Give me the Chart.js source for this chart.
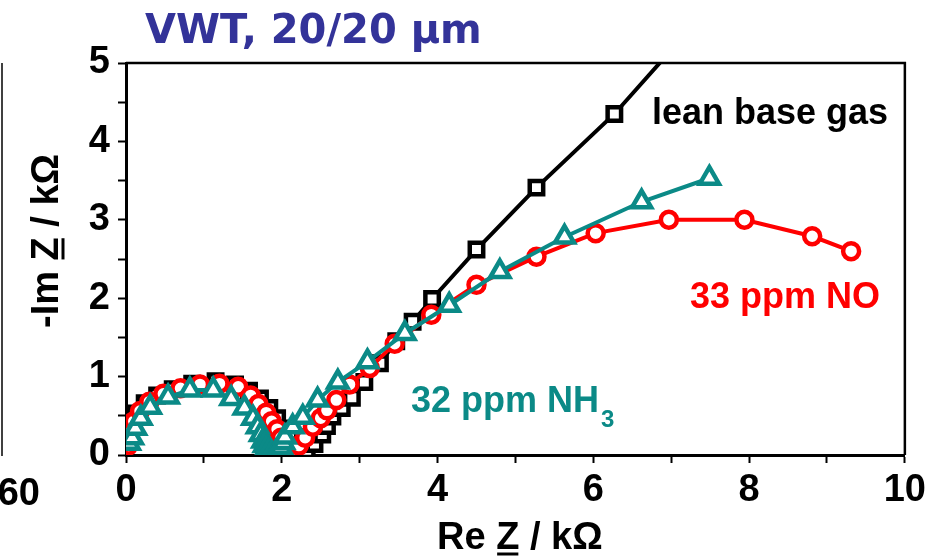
<!DOCTYPE html>
<html>
<head>
<meta charset="utf-8">
<script src="https://cdn.jsdelivr.net/npm/chart.js@4.4.0/dist/chart.umd.min.js"></script>
<style>
  html, body { margin: 0; padding: 0; background: #fff; }
  #wrap { width: 931px; height: 559px; }
</style>
</head>
<body>
<div id="wrap"><canvas id="nyquist" width="931" height="559"></canvas></div>
<script>
// lean base gas (black squares)
var leanX = [0.04, 0.08, 0.14, 0.24, 0.40, 0.60, 0.85, 1.15, 1.40, 1.58, 1.72, 1.84, 1.94, 2.03, 2.10, 2.17,
             2.22, 2.32, 2.42, 2.52, 2.58, 2.65, 2.77, 2.90, 3.06, 3.26, 3.47, 3.68, 3.93, 4.50, 5.27, 6.27, 7.30];
var leanY = [0.20, 0.38, 0.53, 0.66, 0.76, 0.84, 0.91, 0.94, 0.90, 0.82, 0.72, 0.60, 0.47, 0.34, 0.22, 0.12,
             0.04, 0.06, 0.14, 0.26, 0.37, 0.49, 0.60, 0.73, 0.93, 1.17, 1.45, 1.70, 1.99, 2.62, 3.41, 4.35, 5.50];

// 33 ppm NO (red circles)
var noX = [0.03, 0.05, 0.10, 0.18, 0.30, 0.48, 0.70, 0.95, 1.20, 1.44, 1.60, 1.70, 1.80, 1.87, 1.94, 1.99,
           2.03, 2.06, 2.10, 2.15, 2.22, 2.30, 2.40, 2.50, 2.58, 2.70, 2.87, 3.13, 3.45, 3.92, 4.50, 5.27,
           6.03, 6.97, 7.94, 8.81, 9.31];
var noY = [0.12, 0.28, 0.43, 0.56, 0.68, 0.78, 0.85, 0.90, 0.91, 0.87, 0.76, 0.65, 0.54, 0.43, 0.33, 0.22,
           0.13, 0.06, 0.03, 0.06, 0.12, 0.22, 0.36, 0.47, 0.57, 0.70, 0.90, 1.11, 1.42, 1.79, 2.17, 2.53,
           2.83, 3.00, 3.00, 2.79, 2.60];

// 32 ppm NH3 (teal triangles)
var nh3X = [0.04, 0.08, 0.12, 0.19, 0.31, 0.54, 0.82, 1.12, 1.35, 1.52, 1.63, 1.69, 1.73, 1.76, 1.78, 1.80,
            1.83, 1.87, 1.92, 1.96, 1.99, 2.02, 2.04, 2.14, 2.27, 2.46, 2.72, 3.10, 3.58, 4.15, 4.80, 5.63,
            6.62, 7.49];
var nh3Y = [0.15, 0.22, 0.34, 0.47, 0.61, 0.74, 0.83, 0.83, 0.72, 0.60, 0.47, 0.36, 0.26, 0.18, 0.12, 0.07,
            0.04, 0.02, 0.03, 0.06, 0.10, 0.16, 0.23, 0.36, 0.48, 0.70, 0.93, 1.19, 1.55, 1.91, 2.34, 2.78,
            3.23, 3.53];

var xMin = 0, xMax = 10, xStep = 1;
var yMin = 0, yMax = 5, yStep = 0.5;

function pts(xs, ys) {
    return xs.map(function(x, i) { return { x: x, y: ys[i] }; });
}

var FONT = "'Liberation Sans', Arial, sans-serif";

// frame, title, annotations and axis titles with underlined Z
var decor = {
    id: 'decor',
    afterDraw: function(chart) {
        var ctx = chart.ctx;
        var a = chart.chartArea;
        ctx.save();
        ctx.strokeStyle = '#000';
        ctx.lineWidth = 2.5;
        ctx.beginPath();
        ctx.moveTo(a.left, a.top);
        ctx.lineTo(a.right, a.top);
        ctx.lineTo(a.right, a.bottom);
        ctx.stroke();

        // piece of neighbouring panel at left edge
        ctx.lineWidth = 1.5;
        ctx.beginPath();
        ctx.moveTo(2, 63);
        ctx.lineTo(2, 456);
        ctx.stroke();
        ctx.fillStyle = '#000';
        ctx.font = 'bold 38px ' + FONT;
        ctx.textAlign = 'right';
        ctx.textBaseline = 'alphabetic';
        ctx.fillText('60', 40, 505);

        ctx.textAlign = 'left';
        ctx.fillStyle = '#333399';
        ctx.font = "bold 40px 'DejaVu Sans', Verdana, sans-serif";
        ctx.fillText('VWT, 20/20 µm', 145, 43);

        ctx.fillStyle = '#000';
        ctx.font = 'bold 36px ' + FONT;
        ctx.fillText('lean base gas', 652, 124);

        ctx.fillStyle = '#ff0000';
        ctx.fillText('33 ppm NO', 690, 308);

        ctx.fillStyle = '#0b8a87';
        ctx.fillText('32 ppm NH', 411, 412);
        var w = ctx.measureText('32 ppm NH').width;
        ctx.font = 'bold 24px ' + FONT;
        ctx.fillText('3', 411 + w + 2, 427);

        // axis titles
        ctx.fillStyle = '#000';
        ctx.strokeStyle = '#000';
        ctx.font = 'bold 38px ' + FONT;
        drawTitle(ctx, 'Re ', 437, 549);
        ctx.translate(58, 328);
        ctx.rotate(-Math.PI / 2);
        drawTitle(ctx, '-Im ', 0, 0);
        ctx.restore();
    }
};

function drawTitle(ctx, pre, x, y) {
    ctx.textAlign = 'left';
    ctx.fillText(pre, x, y);
    var x1 = x + ctx.measureText(pre).width;
    ctx.fillText('Z', x1, y);
    var zw = ctx.measureText('Z').width;
    ctx.lineWidth = 3;
    ctx.beginPath();
    ctx.moveTo(x1 + 1, y + 5);
    ctx.lineTo(x1 + zw - 1, y + 5);
    ctx.stroke();
    ctx.fillText(' / kΩ', x1 + zw, y);
}

var ctx = document.getElementById('nyquist').getContext('2d');
new Chart(ctx, {
    type: 'scatter',
    data: {
        datasets: [{
            label: '32 ppm NH3',
            data: pts(nh3X, nh3Y),
            showLine: true,
            borderColor: '#0b8a87',
            backgroundColor: '#fff',
            borderWidth: 4,
            pointStyle: 'triangle',
            pointRadius: 11,
            pointBorderWidth: 4.5,
            pointBackgroundColor: '#fff',
            pointBorderColor: '#0b8a87'
        }, {
            label: '33 ppm NO',
            data: pts(noX, noY),
            showLine: true,
            borderColor: '#ff0000',
            backgroundColor: '#fff',
            borderWidth: 4,
            pointStyle: 'circle',
            pointRadius: 8,
            pointBorderWidth: 4.5,
            pointBackgroundColor: '#fff',
            pointBorderColor: '#ff0000'
        }, {
            label: 'lean base gas',
            data: pts(leanX, leanY),
            showLine: true,
            borderColor: '#000',
            backgroundColor: '#fff',
            borderWidth: 4,
            pointStyle: 'rect',
            pointRadius: 9.5,
            pointBorderWidth: 4.5,
            pointBackgroundColor: '#fff',
            pointBorderColor: '#000'
        }]
    },
    options: {
        responsive: false,
        animation: false,
        layout: { padding: { top: 63, right: 25, left: 0, bottom: 0 } },
        plugins: {
            legend: { display: false },
            tooltip: { enabled: false }
        },
        scales: {
            x: {
                type: 'linear',
                min: xMin,
                max: xMax,
                afterFit: function(s) { s.height = 104; },
                border: { display: true, color: '#000', width: 3 },
                grid: { drawOnChartArea: false, drawTicks: true, tickLength: 8, color: '#000', tickWidth: 2 },
                ticks: {
                    stepSize: xStep,
                    autoSkip: false,
                    maxRotation: 0,
                    padding: 5,
                    color: '#000',
                    font: { family: FONT, size: 38, weight: 'bold' },
                    callback: function(v) { return v % 2 === 0 ? v : ''; }
                }
            },
            y: {
                type: 'linear',
                min: yMin,
                max: yMax,
                afterFit: function(s) { s.width = 126; },
                border: { display: true, color: '#000', width: 3 },
                grid: { drawOnChartArea: false, drawTicks: true, tickLength: 8, color: '#000', tickWidth: 2 },
                ticks: {
                    stepSize: yStep,
                    autoSkip: false,
                    padding: 8,
                    color: '#000',
                    font: { family: FONT, size: 38, weight: 'bold' },
                    callback: function(v) { return Number.isInteger(v) ? v : ''; }
                }
            }
        }
    },
    plugins: [decor]
});
</script>
</body>
</html>
